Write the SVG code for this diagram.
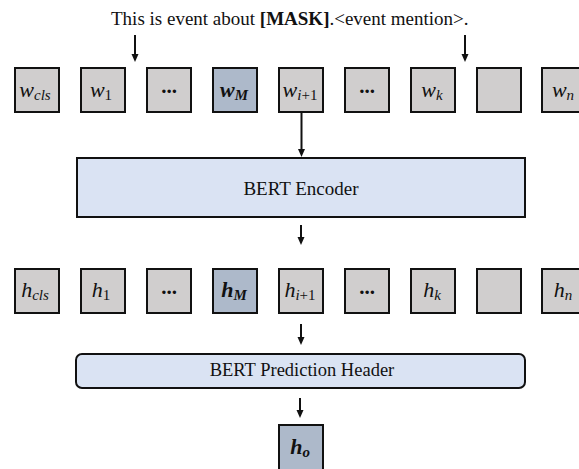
<svg xmlns="http://www.w3.org/2000/svg" width="579" height="469" viewBox="0 0 579 469">
  <defs>
    <style>
      .tok { fill: #D0CECE; stroke: #111; stroke-width: 2; }
      .mask { fill: #ADB9CA; stroke: #111; stroke-width: 2; }
      .block { fill: #DAE3F3; stroke: #111; stroke-width: 2; }
      .serif { font-family: "Liberation Serif", "Times New Roman", serif; fill: #111; }
      .var { font-family: "Liberation Serif", "Times New Roman", serif; font-style: italic; font-size: 22px; fill: #111; }
      .sub { font-size: 15px; }
      .up { font-style: normal; }
      .dots { font-family: "Liberation Serif", "Times New Roman", serif; font-weight: bold; font-size: 21px; fill: #111; }
      .conn { stroke: #111; stroke-width: 2; fill: none; marker-end: url(#ah); }
    </style>
    <marker id="ah" viewBox="0 0 8 8" refX="2" refY="4" markerWidth="8" markerHeight="8" markerUnits="userSpaceOnUse" orient="auto">
      <path d="M0,0.5 L8,4 L0,7.5 z" fill="#111"/>
    </marker>
  </defs>

  <!-- prompt sentence -->
  <text class="serif" x="111" y="25" font-size="19">This is event about <tspan font-weight="bold">[MASK]</tspan>.&lt;event mention&gt;.</text>

  <!-- input token row -->
  <g id="w_cls"><rect class="tok" x="15" y="68" width="44" height="44"/><text class="var" x="35" y="97" text-anchor="middle">w<tspan class="sub" dy="3">cls</tspan></text></g>
  <g id="w_1"><rect class="tok" x="81" y="68" width="44" height="44"/><text class="var" x="101" y="97" text-anchor="middle">w<tspan class="sub up" dy="3">1</tspan></text></g>
  <g id="w_dots1"><rect class="tok" x="147" y="68" width="44" height="44"/><text class="dots" x="169" y="93" text-anchor="middle">...</text></g>
  <g id="w_M"><rect class="mask" x="213" y="68" width="44" height="44"/><text class="var" x="234" y="97" text-anchor="middle" font-weight="bold">w<tspan class="sub" dy="3">M</tspan></text></g>
  <g id="w_i1"><rect class="tok" x="279" y="68" width="44" height="44"/><text class="var" x="300" y="97" text-anchor="middle">w<tspan class="sub" dy="3">i</tspan><tspan class="sub up">+1</tspan></text></g>
  <g id="w_dots2"><rect class="tok" x="345" y="68" width="44" height="44"/><text class="dots" x="367" y="93" text-anchor="middle">...</text></g>
  <g id="w_k"><rect class="tok" x="411" y="68" width="44" height="44"/><text class="var" x="432" y="97" text-anchor="middle">w<tspan class="sub" dy="3">k</tspan></text></g>
  <g id="w_empty"><rect class="tok" x="477" y="68" width="44" height="44"/></g>
  <g id="w_n"><rect class="tok" x="542" y="68" width="44" height="44"/><text class="var" x="563" y="97" text-anchor="middle">w<tspan class="sub" dy="3">n</tspan></text></g>

  <!-- encoder -->
  <g id="encoder">
    <rect class="block" x="77" y="158" width="448" height="59"/>
    <text class="serif" x="301" y="195" font-size="19" text-anchor="middle">BERT Encoder</text>
  </g>

  <!-- hidden state row -->
  <g id="h_cls"><rect class="tok" x="15" y="269" width="44" height="44"/><text class="var" x="35" y="297" text-anchor="middle">h<tspan class="sub" dy="3">cls</tspan></text></g>
  <g id="h_1"><rect class="tok" x="81" y="269" width="44" height="44"/><text class="var" x="101" y="297" text-anchor="middle">h<tspan class="sub up" dy="3">1</tspan></text></g>
  <g id="h_dots1"><rect class="tok" x="147" y="269" width="44" height="44"/><text class="dots" x="169" y="294" text-anchor="middle">...</text></g>
  <g id="h_M"><rect class="mask" x="213" y="269" width="44" height="44"/><text class="var" x="234" y="297" text-anchor="middle" font-weight="bold">h<tspan class="sub" dy="3">M</tspan></text></g>
  <g id="h_i1"><rect class="tok" x="279" y="269" width="44" height="44"/><text class="var" x="300" y="297" text-anchor="middle">h<tspan class="sub" dy="3">i</tspan><tspan class="sub up">+1</tspan></text></g>
  <g id="h_dots2"><rect class="tok" x="345" y="269" width="44" height="44"/><text class="dots" x="367" y="294" text-anchor="middle">...</text></g>
  <g id="h_k"><rect class="tok" x="411" y="269" width="44" height="44"/><text class="var" x="432" y="297" text-anchor="middle">h<tspan class="sub" dy="3">k</tspan></text></g>
  <g id="h_empty"><rect class="tok" x="477" y="269" width="44" height="44"/></g>
  <g id="h_n"><rect class="tok" x="542" y="269" width="44" height="44"/><text class="var" x="563" y="297" text-anchor="middle">h<tspan class="sub" dy="3">n</tspan></text></g>

  <!-- prediction head -->
  <g id="prediction_header">
    <rect class="block" x="76" y="354" width="449" height="34" rx="6"/>
    <text class="serif" x="302" y="376" font-size="18.5" text-anchor="middle">BERT Prediction Header</text>
  </g>

  <!-- output -->
  <g id="h_o"><rect class="mask" x="279" y="425" width="44" height="47"/><text class="var" x="300" y="454" text-anchor="middle" font-weight="bold">h<tspan class="sub" dy="3">o</tspan></text></g>

  <!-- connectors -->
  <g id="connectors">
    <path class="conn" d="M135,35 V56"/>
    <path class="conn" d="M465,35 V56"/>
    <path class="conn" d="M301.5,113 V151"/>
    <path class="conn" d="M301,225 V239"/>
    <path class="conn" d="M301,324 V339"/>
    <path class="conn" d="M300,398 V412"/>
  </g>
</svg>
